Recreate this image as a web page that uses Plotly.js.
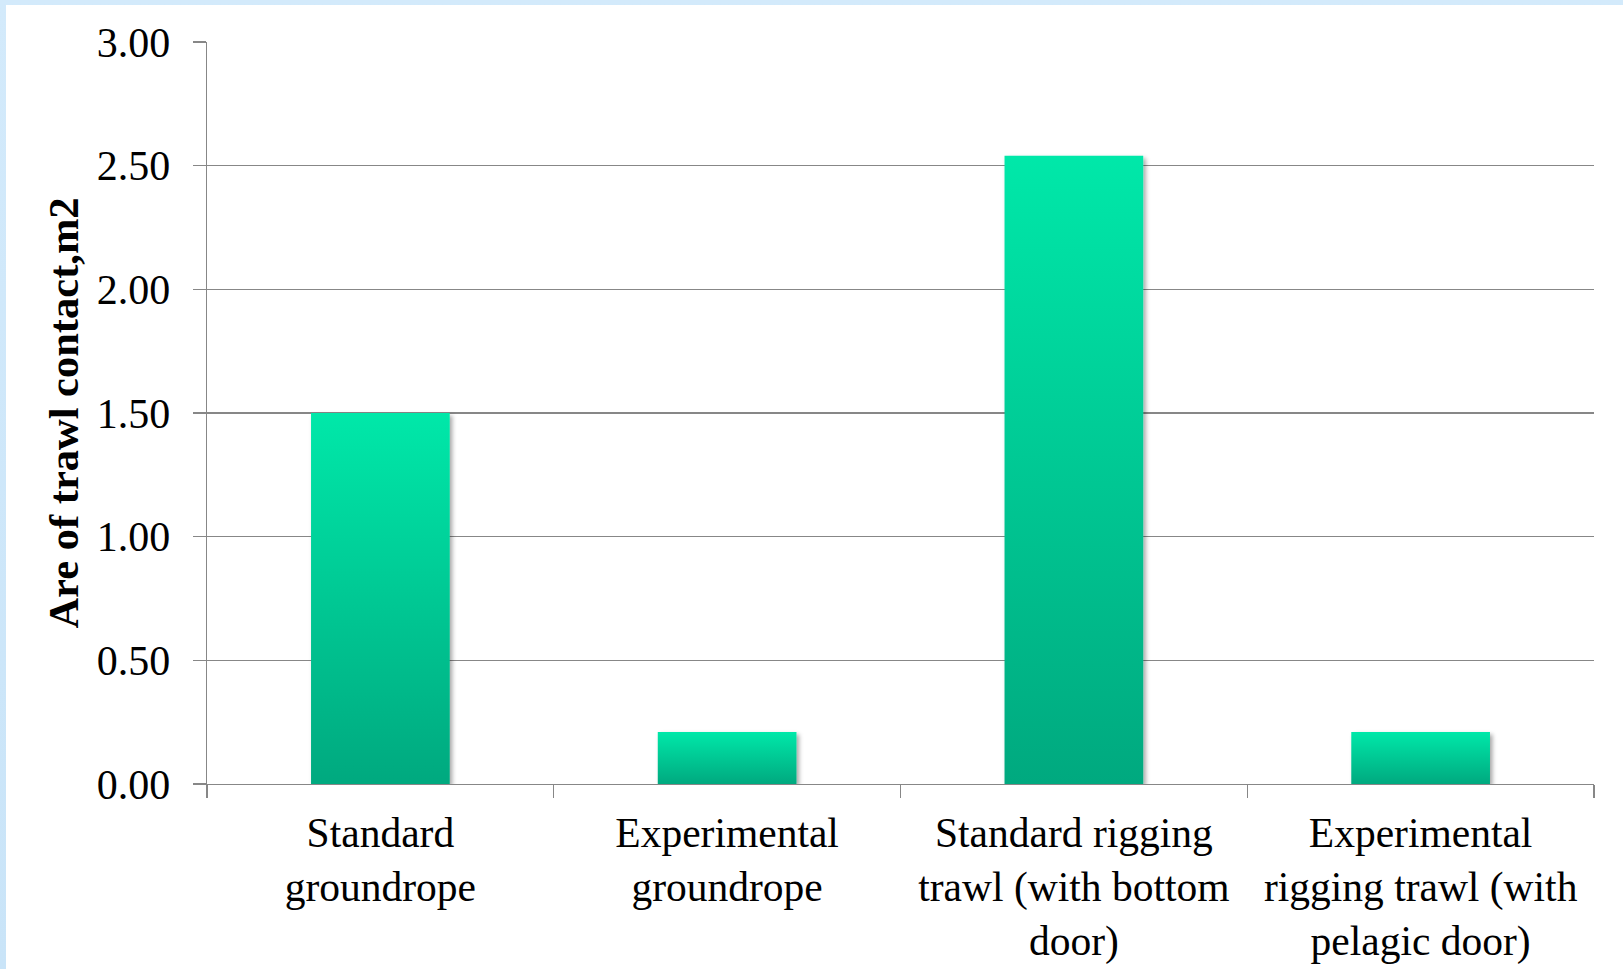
<!DOCTYPE html>
<html>
<head>
<meta charset="utf-8">
<script src="https://cdn.plot.ly/plotly-3.0.1.min.js"></script>
<style>
  html, body { margin: 0; padding: 0; width: 1623px; height: 969px; overflow: hidden;
    background: linear-gradient(180deg, #d3eafb 0%, #c9e4f8 100%); }
  #chart { position: absolute; left: 6px; top: 5px; width: 1617px; height: 964px; background: #ffffff; }
</style>
</head>
<body>
<div id="chart"></div>
<script>
// ---- data ----
const categories = ["Standard groundrope", "Experimental groundrope",
  "Standard rigging trawl (with bottom door)", "Experimental rigging trawl (with pelagic door)"];
const tickLabels = ["Standard<br>groundrope", "Experimental<br>groundrope",
  "Standard rigging<br>trawl (with bottom<br>door)", "Experimental<br>rigging trawl (with<br>pelagic door)"];
const values = [1.50, 0.21, 2.54, 0.21];
const yTicks = [0, 0.5, 1.0, 1.5, 2.0, 2.5, 3.0];
const yTitle = "Are of trawl contact,m2";

const font = "Liberation Serif, Times New Roman, serif";
const gridColor = "#878787";

const trace = {
  type: "bar",
  x: categories,
  y: values,
  marker: { color: "#00c995", line: { width: 0 } },
  hoverinfo: "x+y"
};

const layout = {
  width: 1617, height: 964,
  margin: { l: 201, r: 29, t: 37, b: 185, pad: 0 },
  paper_bgcolor: "#ffffff",
  plot_bgcolor: "#ffffff",
  bargap: 0.6,
  showlegend: false,
  font: { family: font, size: 40, color: "#000000" },
  xaxis: {
    type: "category",
    tickmode: "array",
    tickvals: categories,
    ticktext: tickLabels,
    tickson: "boundaries",
    ticks: "outside",
    ticklen: 13,
    tickwidth: 1.4,
    tickcolor: gridColor,
    showline: true,
    linecolor: gridColor,
    linewidth: 1.4,
    showgrid: false,
    tickfont: { family: font, size: 41.5, color: "#000000" },
    ticklabelstandoff: 12,
    tickangle: 0,
    automargin: false
  },
  yaxis: {
    range: [0, 3],
    tickmode: "array",
    tickvals: yTicks,
    ticktext: yTicks.map(v => v.toFixed(2)),
    ticks: "outside",
    ticklen: 13,
    tickwidth: 1.4,
    tickcolor: gridColor,
    showline: true,
    linecolor: gridColor,
    linewidth: 1.4,
    showgrid: true,
    gridcolor: gridColor,
    gridwidth: 1.4,
    zeroline: false,
    tickfont: { family: font, size: 42, color: "#000000" },
    ticklabelstandoff: 14,
    automargin: false,
    title: { text: "<b>" + yTitle + "</b>", font: { family: font, size: 42.5, color: "#000000" }, standoff: 5 }
  }
};

Plotly.newPlot("chart", [trace], layout, { displayModeBar: false, staticPlot: true }).then(function (gd) {
  const svg = gd.querySelector("svg.main-svg");
  const ns = "http://www.w3.org/2000/svg";
  const defs = document.createElementNS(ns, "defs");
  defs.innerHTML =
    '<linearGradient id="barGrad" x1="0" y1="0" x2="0" y2="1">' +
    '<stop offset="0" stop-color="#00e8a9"/>' +
    '<stop offset="1" stop-color="#00a97f"/>' +
    '</linearGradient>' +
    '<filter id="barShadow" x="-10%" y="-10%" width="130%" height="130%">' +
    '<feDropShadow dx="2.5" dy="2.5" stdDeviation="2.2" flood-color="#000000" flood-opacity="0.35"/>' +
    '</filter>';
  svg.insertBefore(defs, svg.firstChild);
  gd.querySelectorAll(".barlayer .point path").forEach(function (p) {
    p.style.fill = "url(#barGrad)";
    p.setAttribute("filter", "url(#barShadow)");
  });
});
</script>
</body>
</html>
